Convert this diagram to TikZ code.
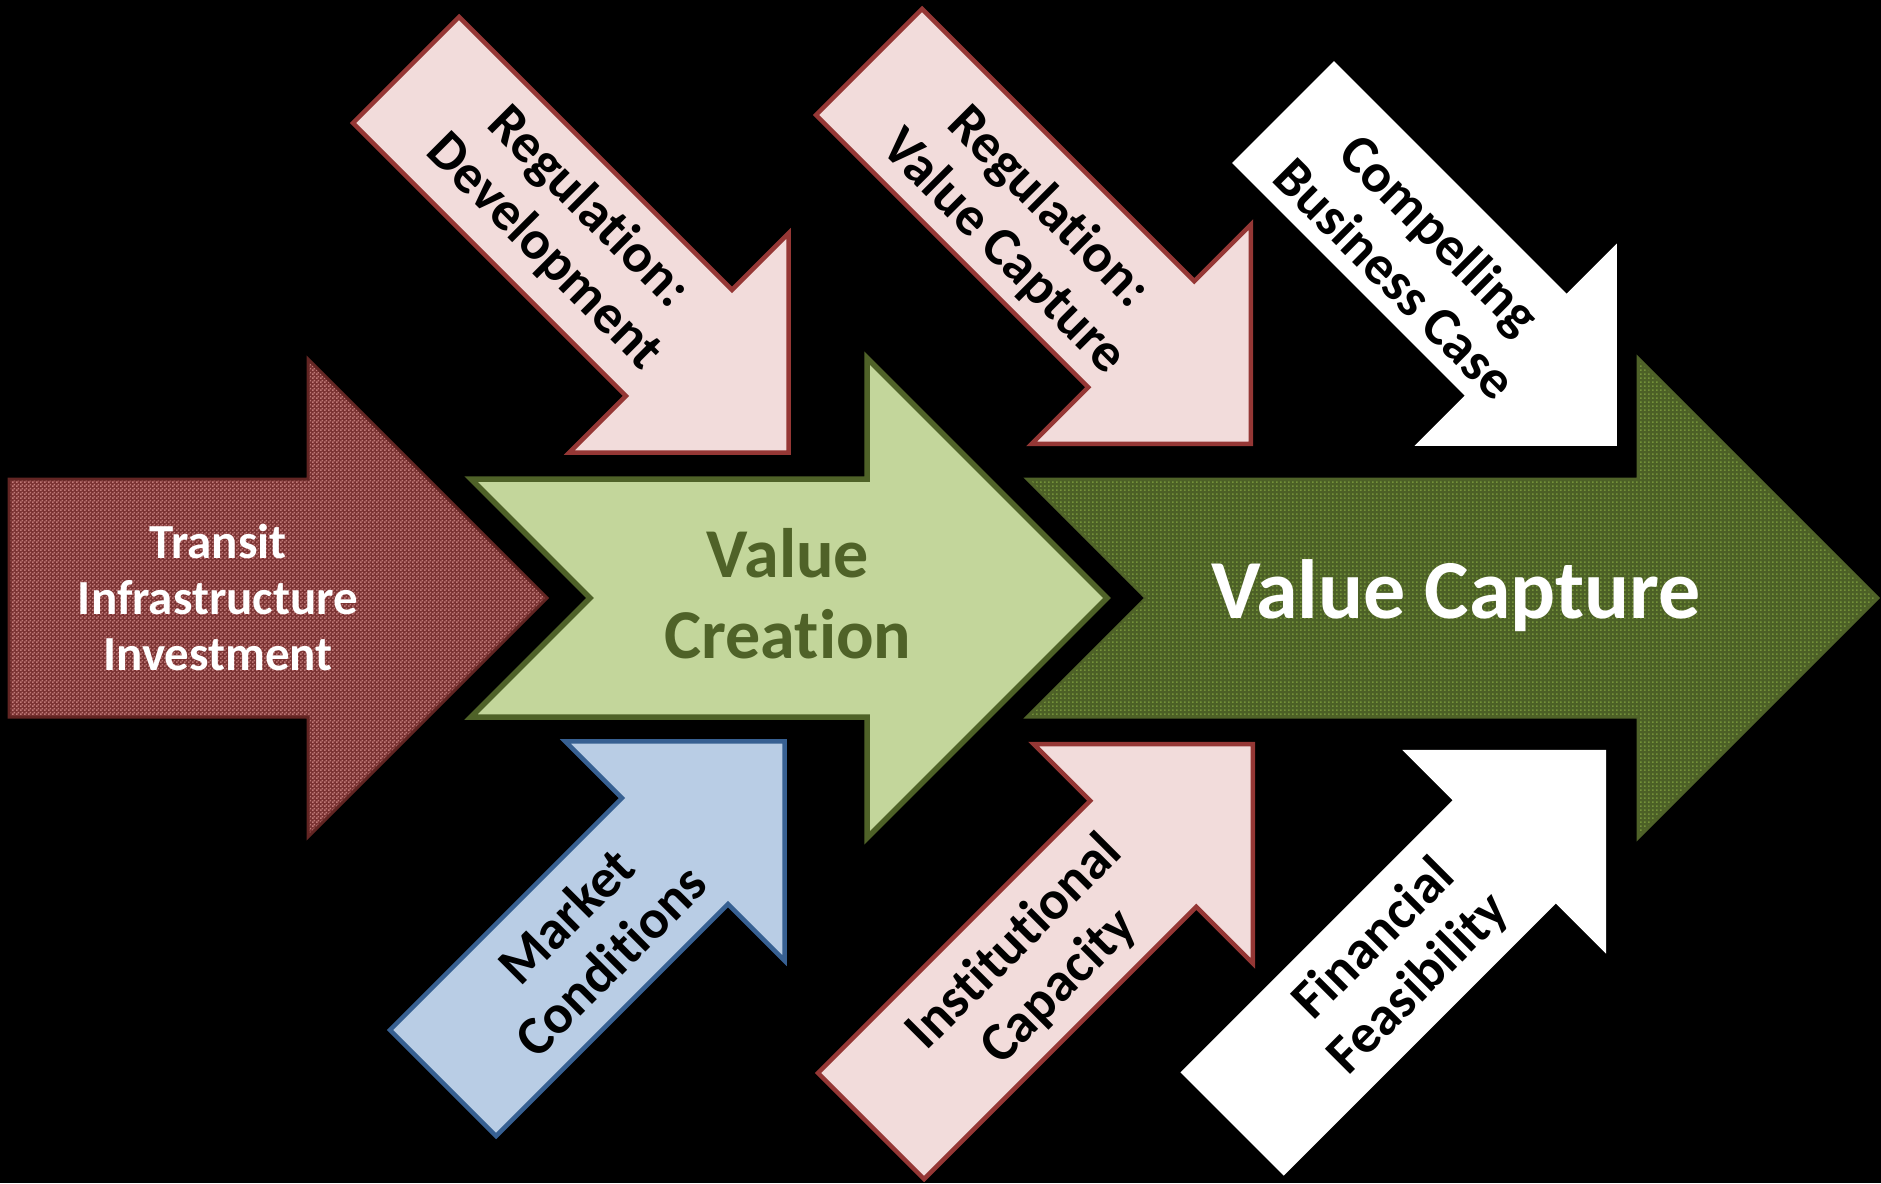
\documentclass[tikz,border=0pt]{standalone}
\usepackage{fontspec}
\setmainfont{Carlito}[Ligatures={NoCommon,NoContextual}]
\usetikzlibrary{patterns.meta}

\definecolor{transitdark}{RGB}{122,50,50}
\definecolor{transitlight}{RGB}{192,122,120}
\definecolor{transitline}{RGB}{99,37,35}
\definecolor{capdark}{RGB}{76,96,38}
\definecolor{caplight}{RGB}{116,146,58}
\definecolor{oliveline}{RGB}{79,98,40}
\definecolor{creationfill}{RGB}{195,214,155}
\definecolor{pinkfill}{RGB}{242,220,219}
\definecolor{pinkline}{RGB}{149,55,53}
\definecolor{bluefill}{RGB}{185,205,229}
\definecolor{blueline}{RGB}{55,96,146}

\tikzdeclarepattern{
  name=checker,
  type=uncolored,
  bounding box={(0pt,0pt) and (4pt,4pt)},
  tile size={(4pt,4pt)},
  code={\fill (0pt,0pt) rectangle (2pt,2pt); \fill (2pt,2pt) rectangle (4pt,4pt);}
}
\tikzdeclarepattern{
  name=dotgrid,
  type=uncolored,
  bounding box={(0pt,0pt) and (4pt,4pt)},
  tile size={(4pt,4pt)},
  code={\fill (0pt,0pt) rectangle (2pt,2pt);}
}

% #1 style, #2 tail, #3 angle, #4 length, #5 shaft half width, #6 head half width
\newcommand\blockarrow[6]{%
  \path[#1, shift={#2}, rotate=#3] (0,-#5) -- ({#4-#6},-#5) -- ({#4-#6},-#6) -- (#4,0)
    -- ({#4-#6},#6) -- ({#4-#6},#5) -- (0,#5) -- cycle;}
\newcommand\chevronarrow[6]{%
  \path[#1, shift={#2}, rotate=#3] (0,-#5) -- ({#4-#6},-#5) -- ({#4-#6},-#6) -- (#4,0)
    -- ({#4-#6},#6) -- ({#4-#6},#5) -- (0,#5) -- (#5,0) -- cycle;}

\begin{document}
\begin{tikzpicture}[x=1pt, y=-1pt,
    pinkarrow/.style={fill=pinkfill, draw=pinkline, line width=4.5pt},
    bluearrow/.style={fill=bluefill, draw=blueline, line width=4.5pt},
    whitearrow/.style={fill=white},
    diagtxt/.style={font=\fontsize{55}{63}\selectfont\bfseries, align=center, inner sep=0pt, text=black}]
    \useasboundingbox (0,0) rectangle (1881,1183);
    \fill[black] (0,0) rectangle (1881,1183);

    \blockarrow{fill=transitdark}{(9,598)}{0}{538}{119}{239}
    \blockarrow{pattern={checker}, pattern color=transitlight}{(9,598)}{0}{538}{119}{239}
    \blockarrow{draw=transitline, line width=3pt}{(9,598)}{0}{538}{119}{239}
    \chevronarrow{fill=creationfill, draw=oliveline, line width=5.5pt}{(471,598)}{0}{636}{119}{240}
    \chevronarrow{fill=capdark}{(1027,598)}{0}{851}{119}{240}
    \chevronarrow{pattern={dotgrid}, pattern color=caplight}{(1027,598)}{0}{851}{119}{240}
    \chevronarrow{draw=oliveline, line width=3pt}{(1027,598)}{0}{851}{119}{240}

    \blockarrow{pinkarrow}{(406,70)}{-45}{541}{75}{155}
    \blockarrow{pinkarrow}{(869,62)}{-45}{540}{75}{155}
    \blockarrow{whitearrow}{(1283,112)}{-45}{472}{72}{143}
    \blockarrow{bluearrow}{(443,1083)}{45}{483}{75}{155}
    \blockarrow{pinkarrow}{(871,1126)}{45}{540}{75}{155}
    \blockarrow{whitearrow}{(1232,1124)}{45}{529}{73}{144}

    \node[font=\fontsize{49}{56}\selectfont\bfseries, align=center, inner sep=0pt, text=white] (transit) at (218,597) {Transit\\Infrastructure\\Investment};
    \node[font=\fontsize{70}{81}\selectfont\bfseries, align=center, inner sep=0pt, text=oliveline] (creation) at (788,594) {Value\\Creation};
    \node[font=\fontsize{84}{96}\selectfont\bfseries, inner sep=0pt, text=white, anchor=base] (capture) at (1456,618) {Value Capture};

    \node[diagtxt, rotate=-45] (regdev) at (566,230) {Regulation:\\Development};
    \node[diagtxt, rotate=-45] (regcap) at (1026,230) {Regulation:\\Value Capture};
    \node[diagtxt, rotate=-45] (business) at (1418,256) {Compelling\\Business Case};
    \node[diagtxt, rotate=45] (market) at (588,938) {Market\\Conditions};
    \node[diagtxt, rotate=45] (institution) at (1037,965) {Institutional\\Capacity};
    \node[diagtxt, rotate=45] (finance) at (1397,962) {Financial\\Feasibility};
\end{tikzpicture}
\end{document}
